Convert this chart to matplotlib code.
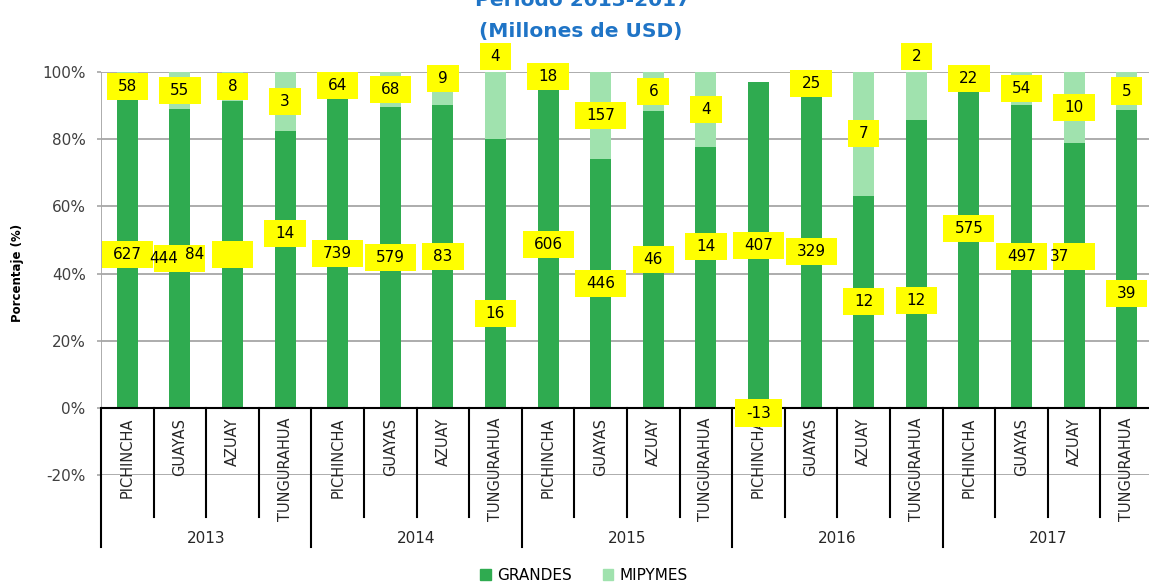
import numpy as np
import matplotlib.pyplot as plt
from matplotlib.patches import Patch

plt.rcParams['axes.unicode_minus'] = False
plt.rcParams['font.family'] = 'DejaVu Sans'

# exportaciones por provincia y tamaño de empresa (millones de USD)
anios = ['2013', '2014', '2015', '2016', '2017']
provincias = ['PICHINCHA', 'GUAYAS', 'AZUAY', 'TUNGURAHUA']
grandes = [627, 444, 84, 14,
           739, 579, 83, 16,
           606, 446, 46, 14,
           407, 329, 12, 12,
           575, 497, 37, 39]
mipymes = [58, 55, 8, 3,
           64, 68, 9, 4,
           18, 157, 6, 4,
           -13, 25, 7, 2,
           22, 54, 10, 5]

verde = '#2FAB50'
verde_claro = '#A0E2AE'
amarillo = '#FFFF00'
azul = '#1F74C6'

# etiquetas movidas a mano (altura en fraccion, desplazamiento del texto en px)
pos_g = {3: 0.52, 7: 0.28, 11: 0.48, 15: 0.32, 16: 0.535, 18: 0.45, 19: 0.34}
pos_m = {6: 0.98, 7: 1.045, 15: 1.045}
dx_g = {1: -16, 2: -38, 18: -15}

n = len(grandes)
x = np.arange(n)
g = np.array(grandes, dtype=float)
m = np.array(mipymes, dtype=float)
tot = np.abs(g) + np.abs(m)
pg = g / tot
pm = m / tot
base_m = np.where(pm >= 0, pg, 0)

fig = plt.figure(figsize=(11.49, 5.83), dpi=100)
ax = fig.add_axes([101/1149, 108/583, 1052/1149, 403/583])

ax.bar(x, pg, 0.4, color=verde, zorder=2)
ax.bar(x, pm, 0.4, bottom=base_m, color=verde_claro, zorder=2)

ax.set_xlim(-0.5, n - 0.5)
ax.set_ylim(-0.2, 1.0)
yt = np.arange(-0.2, 1.01, 0.2)
ax.set_yticks(yt)
ax.set_yticklabels([f'{round(v*100):.0f}%' for v in yt], fontsize=11, color='#404040')
ax.tick_params(axis='y', length=3, width=1.2, color='#A6A6A6', pad=8)
ax.set_xticks([])
ax.yaxis.grid(True, color='#A6A6A6', lw=1.3)
ax.set_axisbelow(True)
for s in ax.spines.values():
    s.set_visible(False)
ax.plot([-0.5, -0.5], [0, 1.0], color='#A6A6A6', lw=1.3, zorder=1)
ax.axhline(0, color='black', lw=1.5, zorder=3)

# ejes de categorias en dos niveles
for k in range(n + 1):
    fondo = -0.414 if k % 4 == 0 else -0.324
    ax.plot([k - 0.5, k - 0.5], [0, fondo], color='black', lw=1.5, clip_on=False, zorder=3)
for i in range(n):
    ax.text(x[i], -0.03, provincias[i % 4], rotation=90, ha='center', va='top',
            fontsize=10.5, color='#262626', clip_on=False)
for j, a in enumerate(anios):
    ax.text(4*j + 1.5, -0.39, a, ha='center', va='center', fontsize=11,
            color='#262626', clip_on=False)

# etiquetas de valores con fondo amarillo
def etiqueta(xi, yi, txt, dx=0):
    ax.text(xi, yi, ' ' + txt + ' ', ha='center', va='center', fontsize=11,
            color=(0, 0, 0, 0), zorder=4, clip_on=False,
            bbox=dict(boxstyle='square,pad=0.4', fc=amarillo, ec='none'))
    ax.annotate(txt, (xi, yi), xytext=(dx, 0), textcoords='offset pixels',
                ha='center', va='center', fontsize=11, color='black',
                zorder=5, annotation_clip=False)

for i in range(n):
    yg = pos_g.get(i, pg[i] / 2)
    etiqueta(x[i], yg, str(grandes[i]), dx_g.get(i, 0))
    ym = pos_m.get(i, base_m[i] + pm[i] / 2)
    etiqueta(x[i], ym, str(mipymes[i]))

fig.text(18/1149, 1 - 273/583, 'Porcentaje (%)', rotation=90, ha='center', va='center',
         fontsize=8.5, fontweight='bold')
fig.text(583/1149, 1 - 6/583, 'Periodo 2013-2017', ha='center', va='baseline',
         fontsize=14.5, fontweight='bold', color=azul)
fig.text(581/1149, 1 - 31/583, '(Millones de USD)', ha='center', va='center',
         fontsize=14.5, fontweight='bold', color=azul)

fig.legend(handles=[Patch(color=verde, label='GRANDES'), Patch(color=verde_claro, label='MIPYMES')],
           loc='center', bbox_to_anchor=(584/1149, 1 - 575/583), ncol=2, frameon=False,
           fontsize=11, handlelength=0.7, handleheight=0.7, handletextpad=0.4,
           columnspacing=2.0)

fig.savefig('out.png', dpi=100)
